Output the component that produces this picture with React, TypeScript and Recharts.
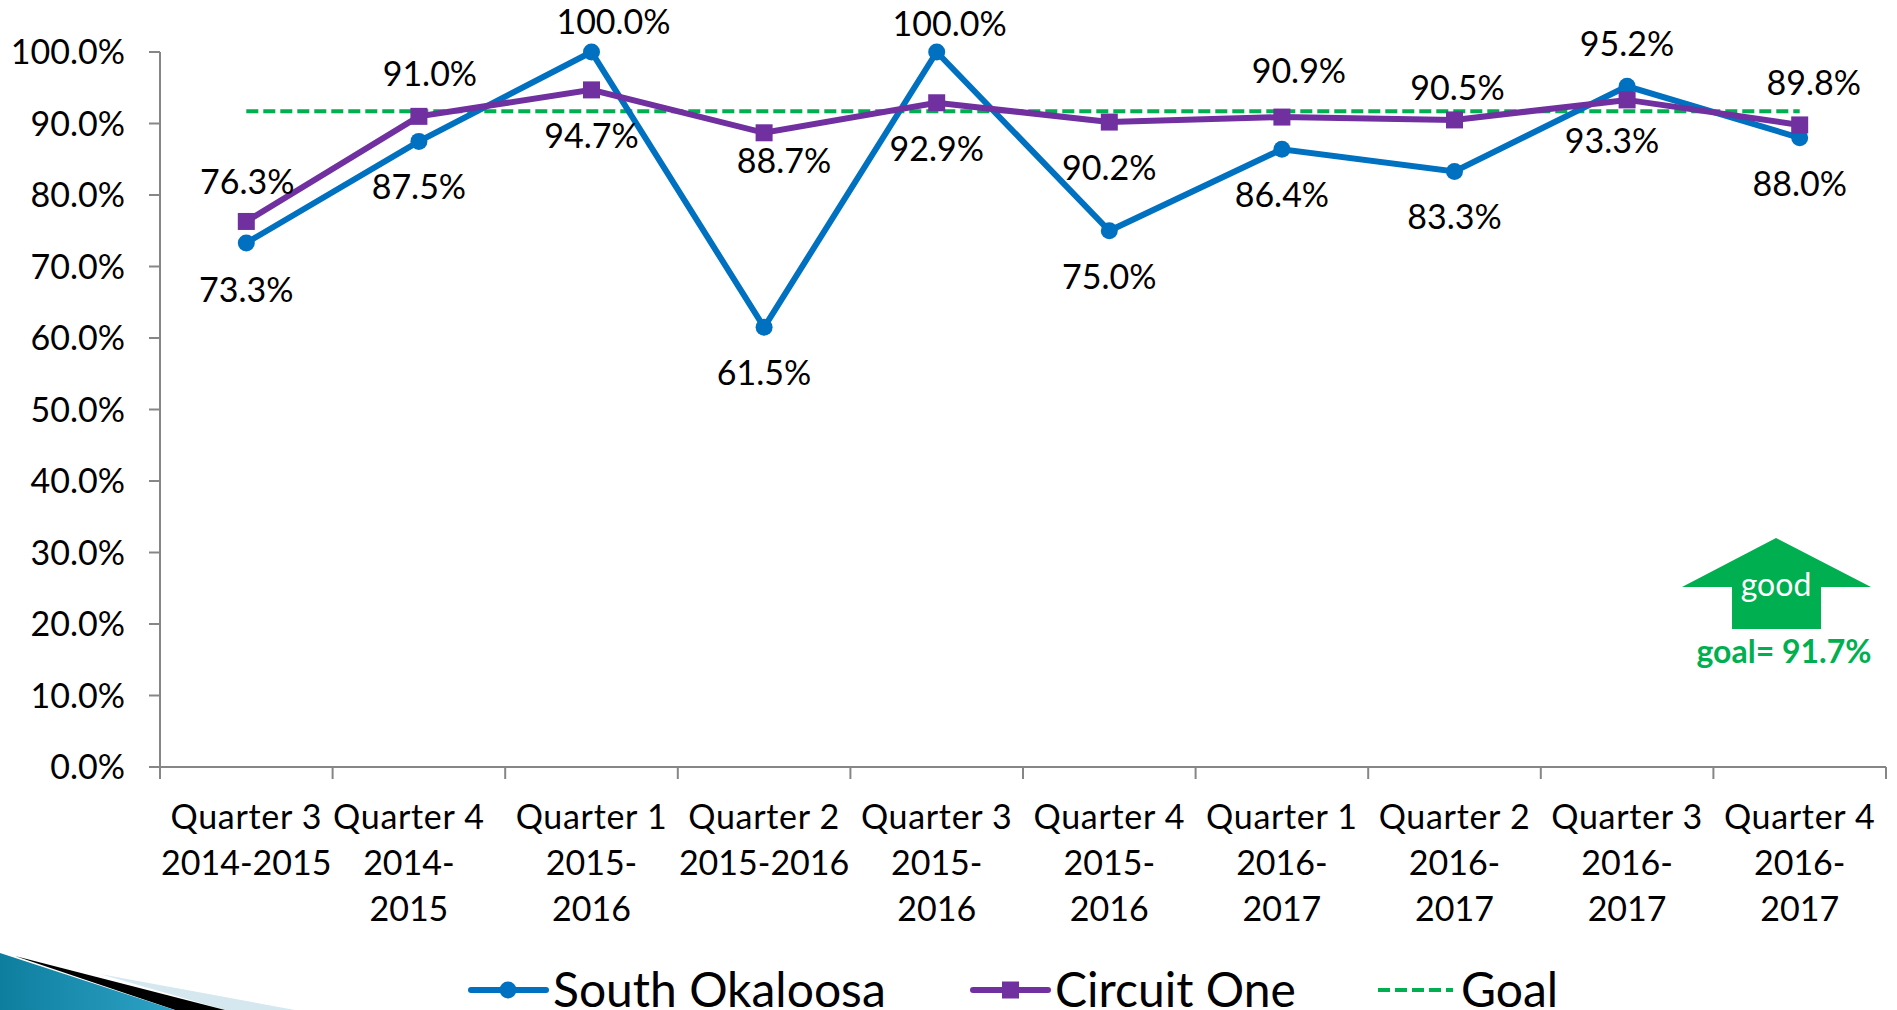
import React from 'react';
import { LineChart, Line, XAxis, YAxis, LabelList, Legend } from 'recharts';

const quarters = [
  ['Quarter 3', '2014-2015'],
  ['Quarter 4', '2014-', '2015'],
  ['Quarter 1', '2015-', '2016'],
  ['Quarter 2', '2015-2016'],
  ['Quarter 3', '2015-', '2016'],
  ['Quarter 4', '2015-', '2016'],
  ['Quarter 1', '2016-', '2017'],
  ['Quarter 2', '2016-', '2017'],
  ['Quarter 3', '2016-', '2017'],
  ['Quarter 4', '2016-', '2017'],
];
const southOkaloosa = [73.3, 87.5, 100, 61.5, 100, 75, 86.4, 83.3, 95.2, 88];
const circuitOne = [76.3, 91, 94.7, 88.7, 92.9, 90.2, 90.9, 90.5, 93.3, 89.8];
const goal = [91.7, 91.7, 91.7, 91.7, 91.7, 91.7, 91.7, 91.7, 91.7, 91.7];
const yTicks = [0, 10, 20, 30, 40, 50, 60, 70, 80, 90, 100];

// hand placed labels, same as the original slide
const southLabelShift = [[0, 47], [0, 46], [22, -30], [0, 46], [13, -28], [0, 46], [0, 46], [0, 46], [0, -42], [0, 46]];
const circuitLabelShift = [[1, -39], [11, -42], [0, 46], [20, 28], [0, 46], [0, 46], [17, -46], [3, -32], [-15, 41], [14, -42]];

const data = quarters.map((q, i) => ({
  name: q.join(' '),
  south: southOkaloosa[i],
  circuit: circuitOne[i],
  goal: goal[i],
}));

const FONT = 'Lato, sans-serif';
const BLUE = '#0070C0';
const PURPLE = '#7030A0';
const GREEN = '#00B050';
const AXIS = '#868686';
const BAND = 172.6;

const QuarterTick = ({ x, y, index }: any) => {
  const lines = quarters[index];
  const nudge = index === 1 ? -10 : 0;
  return (
    <g>
      <line x1={x - BAND / 2} x2={x - BAND / 2} y1={y - 8} y2={y + 4} stroke={AXIS} strokeWidth={2} />
      {index === quarters.length - 1 && (
        <line x1={x + BAND / 2} x2={x + BAND / 2} y1={y - 8} y2={y + 4} stroke={AXIS} strokeWidth={2} />
      )}
      {lines.map((l, i) => (
        <text
          key={i}
          x={x + nudge}
          y={y + 54 + i * 46}
          textAnchor="middle"
          fontFamily={FONT}
          fontSize={34}
          letterSpacing={i === 0 ? 0.7 : 0}
          fill="#000"
        >
          {l}
        </text>
      ))}
    </g>
  );
};

const pointLabel = (shifts: number[][]) => ({ x, y, index, value }: any) => (
  <text
    x={x + shifts[index][0]}
    y={y + shifts[index][1]}
    dy={12}
    textAnchor="middle"
    fontFamily={FONT}
    fontSize={34}
    fill="#000"
  >
    {Number(value).toFixed(1)}%
  </text>
);

const SquareDot = ({ cx, cy }: any) => <rect x={cx - 8.5} y={cy - 8.5} width={17} height={17} fill={PURPLE} />;

const legendItems = [
  { name: 'South Okaloosa', color: BLUE, x: 471, textX: 553, mark: 'circle' },
  { name: 'Circuit One', color: PURPLE, x: 973, textX: 1055, mark: 'square' },
  { name: 'Goal', color: GREEN, x: 1378, textX: 1461, mark: 'none' },
];

const ChartLegend = () => (
  <div style={{ height: 0, width: 0, position: 'relative' }}>
    <svg width={1897} height={72} style={{ position: 'absolute', left: 0, top: 0, overflow: 'visible' }}>
      {legendItems.map((it) => (
        <g key={it.name}>
          <line
            x1={it.x}
            x2={it.x + 75}
            y1={52}
            y2={52}
            stroke={it.color}
            strokeWidth={it.mark === 'none' ? 4 : 6}
            strokeLinecap={it.mark === 'none' ? 'butt' : 'round'}
            strokeDasharray={it.mark === 'none' ? '12 5' : undefined}
          />
          {it.mark === 'circle' && <circle cx={it.x + 37} cy={52} r={8.5} fill={it.color} />}
          {it.mark === 'square' && <rect x={it.x + 29} y={43.5} width={17} height={17} fill={it.color} />}
          <text x={it.textX} y={69} fontFamily={FONT} fontSize={48} fill="#000">
            {it.name}
          </text>
        </g>
      ))}
    </svg>
  </div>
);

const Decoration = () => (
  <svg width={1897} height={1010} style={{ position: 'absolute', left: 0, top: 0 }}>
    <defs>
      <linearGradient id="teal" x1="0" y1="0" x2="1" y2="0">
        <stop offset="0" stopColor="#0E7E9E" />
        <stop offset="1" stopColor="#2EA3C6" />
      </linearGradient>
    </defs>
    <polygon points="100,974 295,1010 225,1010" fill="#D5E8F0" />
    <polygon points="15,956 225,1010 175,1010" fill="#000" />
    <polygon points="0,953 175,1010 0,1010" fill="url(#teal)" />
    <polygon points="1776,538 1871,587 1821,587 1821,629 1732,629 1732,587 1682,587" fill={GREEN} />
    <text x={1776} y={596} textAnchor="middle" fontFamily={FONT} fontSize={32} fill="#fff">good</text>
    <text x={1784} y={663} textAnchor="middle" fontFamily={FONT} fontSize={32} fontWeight={700} fill={GREEN}>goal= 91.7%</text>
  </svg>
);

export default function App() {
  return (
    <div style={{ position: 'absolute', left: 0, top: 0, width: 1897, height: 1010, overflow: 'hidden', background: '#fff' }}>
      <Decoration />
      <div style={{ position: 'absolute', left: 0, top: 0 }}>
        <LineChart width={1897} height={1010} data={data} margin={{ top: 52, right: 11, bottom: 0, left: 0 }}>
          <XAxis
            dataKey="name"
            scale="band"
            interval={0}
            height={243}
            stroke={AXIS}
            strokeWidth={2}
            tickLine={false}
            tick={<QuarterTick />}
          />
          <YAxis
            width={160}
            domain={[0, 100]}
            ticks={yTicks}
            interval={0}
            tickFormatter={(v: number) => `${v.toFixed(1)}%`}
            tick={{ fontFamily: FONT, fontSize: 34, fill: '#000' }}
            stroke={AXIS}
            strokeWidth={2}
            tickSize={11}
            tickMargin={24}
          />
          <Legend content={<ChartLegend />} wrapperStyle={{ position: 'absolute', left: 0, top: 938, width: 0, height: 0 }} />
          <Line dataKey="goal" name="Goal" stroke={GREEN} strokeWidth={4} strokeDasharray="12 5" dot={false} isAnimationActive={false} />
          <Line dataKey="south" name="South Okaloosa" stroke={BLUE} strokeWidth={6} dot={{ r: 8.5, fill: BLUE, stroke: BLUE, strokeWidth: 0 }} isAnimationActive={false}>
            <LabelList dataKey="south" content={pointLabel(southLabelShift)} />
          </Line>
          <Line dataKey="circuit" name="Circuit One" stroke={PURPLE} strokeWidth={6} dot={<SquareDot />} isAnimationActive={false}>
            <LabelList dataKey="circuit" content={pointLabel(circuitLabelShift)} />
          </Line>
        </LineChart>
      </div>
    </div>
  );
}
